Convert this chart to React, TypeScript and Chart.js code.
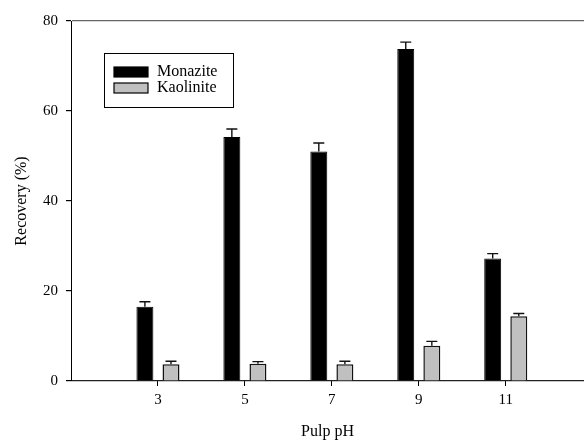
import React, { useEffect, useRef } from "react";
import { Chart, registerables } from "chart.js";

Chart.register(...registerables);

const pulpPH = [3, 5, 7, 9, 11];
const monazite = [16.5, 54.2, 51.0, 73.8, 27.2];
const monaziteErr = [1.1, 1.8, 1.9, 1.5, 1.1];
const kaolinite = [3.7, 3.85, 3.7, 7.85, 14.4];
const kaoliniteErr = [0.7, 0.45, 0.7, 0.95, 0.6];
const yTicks = [0, 20, 40, 60, 80];

const FONT = "'Liberation Serif', 'Times New Roman', serif";

const errorBarPlugin = {
  id: "errorBars",
  afterDatasetsDraw(chart: any) {
    const ctx = chart.ctx;
    const yScale = chart.scales.y;
    const errs = [monaziteErr, kaoliniteErr];
    chart.data.datasets.forEach((ds: any, di: number) => {
      const meta = chart.getDatasetMeta(di);
      meta.data.forEach((el: any, i: number) => {
        const v = ds.data[i].y;
        const top = yScale.getPixelForValue(v + errs[di][i]);
        ctx.save();
        ctx.strokeStyle = "#111";
        ctx.lineWidth = 1.4;
        ctx.beginPath();
        ctx.moveTo(el.x, el.y);
        ctx.lineTo(el.x, top);
        ctx.moveTo(el.x - 5.5, top);
        ctx.lineTo(el.x + 5.5, top);
        ctx.stroke();
        ctx.restore();
      });
    });
  },
};

const legendPlugin = {
  id: "boxLegend",
  afterDraw(chart: any) {
    const ctx = chart.ctx;
    const a = chart.chartArea;
    const bx = a.left + 33;
    const by = a.top + 32;
    ctx.save();
    ctx.fillStyle = "#fff";
    ctx.fillRect(bx, by, 129, 54);
    ctx.strokeStyle = "#000";
    ctx.lineWidth = 1;
    ctx.strokeRect(bx + 0.5, by + 0.5, 129, 54);
    chart.data.datasets.forEach((ds: any, i: number) => {
      const sy = by + 14 + i * 16;
      ctx.fillStyle = ds.backgroundColor;
      ctx.fillRect(bx + 10, sy, 34, 10);
      ctx.strokeStyle = "#000";
      ctx.lineWidth = 1.2;
      ctx.strokeRect(bx + 10, sy, 34, 10);
      ctx.fillStyle = "#000";
      ctx.font = `16px ${FONT}`;
      ctx.textBaseline = "middle";
      ctx.textAlign = "left";
      ctx.fillText(ds.label, bx + 53, sy + 5);
    });
    ctx.restore();
  },
};

export default function App() {
  const ref = useRef<HTMLCanvasElement>(null);
  useEffect(() => {
    if (!ref.current) return;
    const chart = new Chart(ref.current, {
      type: "bar",
      data: {
        datasets: [
          {
            label: "Monazite",
            data: pulpPH.map((x, i) => ({ x, y: monazite[i] })),
            backgroundColor: "#000000",
            borderColor: "#000000",
            borderWidth: 1,
            categoryPercentage: 0.6,
            barPercentage: 0.65,
          },
          {
            label: "Kaolinite",
            data: pulpPH.map((x, i) => ({ x, y: kaolinite[i] })),
            backgroundColor: "#c0c0c0",
            borderColor: "#111111",
            borderWidth: 1.5,
            categoryPercentage: 0.6,
            barPercentage: 0.65,
          },
        ],
      },
      options: {
        animation: false,
        responsive: false,
        layout: { padding: { top: 21, right: 0, left: 0, bottom: 0 } },
        plugins: { legend: { display: false }, tooltip: { enabled: false } },
        scales: {
          x: {
            type: "linear",
            min: 1,
            max: 12.8,
            offset: false,
            afterBuildTicks: (s: any) => {
              s.ticks = pulpPH.map((v) => ({ value: v }));
            },
            afterFit: (s: any) => {
              s.height = 62;
            },
            grid: {
              offset: false,
              drawOnChartArea: false,
              drawTicks: true,
              tickLength: 5,
              tickColor: "#000",
            },
            border: { display: false },
            ticks: {
              font: { family: FONT, size: 15 },
              color: "#000",
              padding: 5,
              maxRotation: 0,
            },
            title: {
              display: true,
              text: "Pulp pH",
              font: { family: FONT, size: 16 },
              color: "#000",
              padding: { top: 0, bottom: 2 },
            },
          },
          y: {
            min: 0,
            max: 80,
            afterBuildTicks: (s: any) => {
              s.ticks = yTicks.map((v) => ({ value: v }));
            },
            afterFit: (s: any) => {
              s.width = 71;
            },
            grid: {
              color: (c: any) =>
                c.tick && c.tick.value === 80
                  ? "#666"
                  : c.tick && c.tick.value === 0
                  ? "#222"
                  : "rgba(0,0,0,0)",
              tickColor: "#000",
              tickLength: 5,
              lineWidth: 1.2,
            },
            border: { display: true, color: "#000", width: 1 },
            ticks: {
              font: { family: FONT, size: 15 },
              color: "#000",
              padding: 8,
            },
            title: {
              display: true,
              text: "Recovery (%)",
              font: { family: FONT, size: 16 },
              color: "#000",
              padding: { top: 12, bottom: 0 },
            },
          },
        },
      },
      plugins: [errorBarPlugin, legendPlugin],
    });
    return () => chart.destroy();
  }, []);
  return (
    <div style={{ position: "fixed", left: 0, top: 0, width: 584, height: 443, background: "#fff" }}>
      <canvas ref={ref} width={584} height={443} />
    </div>
  );
}
